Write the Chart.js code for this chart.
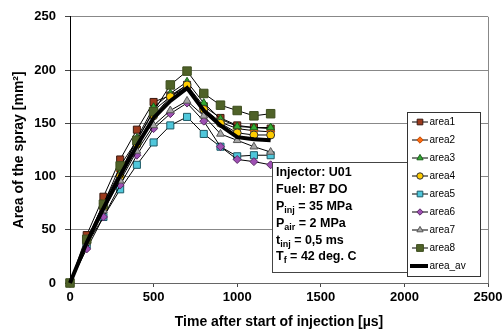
<!DOCTYPE html>
<html>
<head>
<meta charset="utf-8">
<script src="https://cdn.jsdelivr.net/npm/chart.js@4.4.1/dist/chart.umd.min.js"></script>
<style>
  html, body { margin: 0; padding: 0; background: #fff; }
  canvas { display: block; }
</style>
</head>
<body>
<canvas id="sprayChart" width="502" height="336"></canvas>
<script>
// time after start of injection [us]
const times = [0, 100, 200, 300, 400, 500, 600, 700, 800, 900, 1000, 1100, 1200];

// spray area [mm2] per series
const area1 = [0, 45, 81, 116, 144, 170, 176, 186, 166, 155, 148, 146, 145];
const area2 = [0, 40, 75, 105, 134, 162, 175, 184, 164, 151, 145, 143, 142];
const area3 = [0, 38, 72, 103, 136, 165, 178, 189, 169, 154, 147, 146, 146];
const area4 = [0, 38, 70, 100, 130, 157, 175, 186, 163, 150, 141, 139, 139];
const area5 = [0, 36, 62, 88, 111, 132, 148, 156, 140, 128, 119, 120, 120];
const area6 = [0, 32, 62, 92, 120, 145, 159, 169, 152, 128, 116, 114, 111];
const area7 = [0, 38, 68, 96, 124, 148, 162, 171, 157, 140, 134, 128, 123];
const area8 = [0, 41, 74, 110, 134, 161, 186, 199, 178, 167, 162, 157, 159];
const areaAv = [0, 38, 70, 101, 129, 155, 171, 183, 162, 148, 137, 135, 134];

const seriesNames = ['area1', 'area2', 'area3', 'area4', 'area5', 'area6', 'area7', 'area8', 'area_av'];
const seriesValues = [area1, area2, area3, area4, area5, area6, area7, area8, areaAv];

// axis ranges
const xTicks = [0, 500, 1000, 1500, 2000, 2500];
const yTicks = [0, 50, 100, 150, 200, 250];

// text of the info box (text, isSubscript)
const noteLines = [
  [['Injector: U01', false]],
  [['Fuel: B7 DO', false]],
  [['P', false], ['inj', true], [' = 35 MPa', false]],
  [['P', false], ['air', true], [' = 2 MPa', false]],
  [['t', false], ['inj', true], [' = 0,5 ms', false]],
  [['T', false], ['f', true], [' = 42 deg. C', false]]
];

// marker styles
const styles = [
  { pointStyle: 'rect',     radius: 5,   fill: '#9C3A1C', edge: '#3a1a10' },
  { pointStyle: 'rectRot',  radius: 4,   fill: '#FF6A10', edge: '#c04a00' },
  { pointStyle: 'triangle', radius: 4.5, fill: '#33AA33', edge: '#1a5e1a' },
  { pointStyle: 'circle',   radius: 4,   fill: '#FFCC00', edge: '#333333' },
  { pointStyle: 'rect',     radius: 5,   fill: '#4FC7DB', edge: '#1d5a66' },
  { pointStyle: 'rectRot',  radius: 4,   fill: '#9E4FB3', edge: '#5a2a66' },
  { pointStyle: 'triangle', radius: 4.5, fill: '#A6A6A6', edge: '#555555' },
  { pointStyle: 'rect',     radius: 6,   fill: '#4F6228', edge: '#3e4e1f' },
  { pointStyle: false,      radius: 0,   fill: '#000000', edge: '#000000' }
];

const FONT = "'Liberation Sans', Arial, sans-serif";

const datasets = seriesValues.map((vals, i) => {
  const s = styles[i];
  const isAv = i === seriesValues.length - 1;
  return {
    label: seriesNames[i],
    data: vals.map((v, k) => ({ x: times[k], y: v })),
    showLine: true,
    borderColor: '#000',
    borderWidth: isAv ? 4 : 1,
    pointStyle: s.pointStyle,
    pointRadius: s.radius,
    pointBackgroundColor: s.fill,
    pointBorderColor: s.edge,
    pointBorderWidth: 1,
    tension: 0,
    clip: false,
    order: seriesValues.length - i   // later series on top, like the original
  };
});

// draws the info box and the legend box
const boxesPlugin = {
  id: 'boxes',
  afterDatasetsDraw(chart) {
    const ctx = chart.ctx;
    ctx.save();

    // info box
    ctx.fillStyle = '#fff';
    ctx.strokeStyle = '#444';
    ctx.lineWidth = 1;
    ctx.fillRect(272.5, 162.5, 150, 110);
    ctx.strokeRect(272.5, 162.5, 150, 110);
    ctx.fillStyle = '#000';
    ctx.textBaseline = 'middle';
    ctx.textAlign = 'left';
    noteLines.forEach((parts, i) => {
      let x = 276;
      const y = 173 + i * 16.8;
      parts.forEach(([txt, sub]) => {
        ctx.font = sub ? 'bold 9px ' + FONT : 'bold 12.5px ' + FONT;
        ctx.fillText(txt, x, sub ? y + 4 : y);
        x += ctx.measureText(txt).width;
      });
    });

    // legend box
    const lx = 407.5, ly = 112.5, lw = 73, lh = 164;
    ctx.fillStyle = '#fff';
    ctx.strokeStyle = '#333';
    ctx.fillRect(lx, ly, lw, lh);
    ctx.strokeRect(lx, ly, lw, lh);
    chart.data.datasets.forEach((ds, i) => {
      const y = 122 + i * 18;
      ctx.strokeStyle = '#000';
      ctx.lineWidth = ds.borderWidth;
      ctx.beginPath();
      ctx.moveTo(i === 8 ? 410 : 412, y);
      ctx.lineTo(428, y);
      ctx.stroke();
      if (ds.pointStyle) {
        ctx.fillStyle = ds.pointBackgroundColor;
        ctx.strokeStyle = ds.pointBorderColor;
        ctx.lineWidth = 1;
        Chart.helpers.drawPoint(ctx, { pointStyle: ds.pointStyle, radius: ds.pointRadius * 0.8, borderWidth: 1 }, 420, y);
      }
      ctx.fillStyle = '#000';
      ctx.font = '10px ' + FONT;
      ctx.fillText(ds.label, 429.5, y);
    });
    ctx.restore();
  }
};

new Chart(document.getElementById('sprayChart'), {
  type: 'scatter',
  data: { datasets },
  plugins: [boxesPlugin],
  options: {
    responsive: false,
    animation: false,
    devicePixelRatio: 1,
    layout: { padding: { top: 12, right: 14, left: 0, bottom: 0 } },
    plugins: {
      legend: { display: false },
      tooltip: { enabled: false }
    },
    scales: {
      x: {
        type: 'linear',
        min: xTicks[0],
        max: xTicks[xTicks.length - 1],
        afterBuildTicks: s => { s.ticks = xTicks.map(v => ({ value: v })); },
        afterFit: s => { s.height = 53; s.paddingRight = 0; s.paddingLeft = 0; },
        border: { color: '#666', width: 1 },
        grid: {
          color: c => (c.tick && c.tick.value === 2500 ? '#888' : 'rgba(0,0,0,0)'),
          tickColor: '#444',
          tickLength: 4
        },
        ticks: {
          color: '#000', padding: 3, maxRotation: 0,
          font: { family: FONT, size: 13, weight: 'bold' },
          callback: v => String(v)
        },
        title: {
          display: true,
          text: 'Time after start of injection [µs]',
          color: '#000',
          font: { family: FONT, size: 14, weight: 'bold' },
          padding: { top: 0, bottom: 5 }
        }
      },
      y: {
        type: 'linear',
        min: yTicks[0],
        max: yTicks[yTicks.length - 1],
        afterBuildTicks: s => { s.ticks = yTicks.map(v => ({ value: v })); },
        afterFit: s => { s.width = 70; },
        border: { color: '#000', width: 1 },
        grid: {
          color: c => (c.tick && c.tick.value === 0 ? 'rgba(0,0,0,0)' : '#888'),
          tickColor: '#444',
          tickLength: 5
        },
        ticks: {
          color: '#000', padding: 9,
          font: { family: FONT, size: 13, weight: 'bold' },
          callback: v => String(v)
        },
        title: {
          display: true,
          text: 'Area of the spray [mm²]',
          color: '#000',
          font: { family: FONT, size: 14, weight: 'bold' },
          padding: { top: 11, bottom: 0 }
        }
      }
    }
  }
});
</script>
</body>
</html>
